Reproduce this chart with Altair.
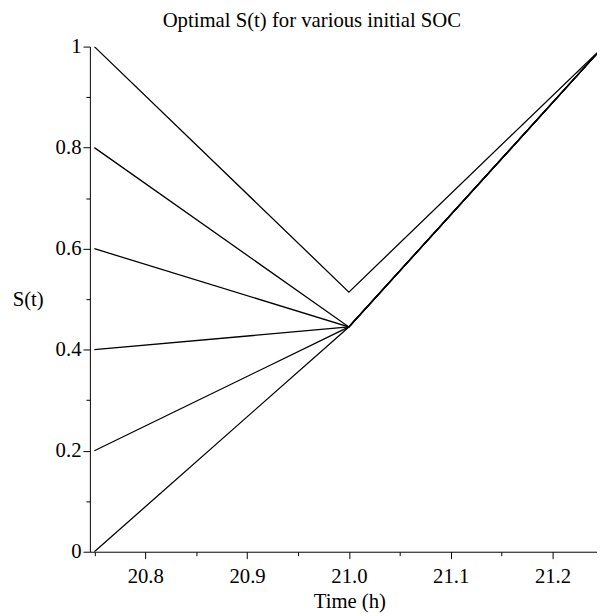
import altair as alt
import pandas as pd

# Initial state of charge for each run
initial_soc = [0.0, 0.2, 0.4, 0.6, 0.8, 1.0]
# S(t) at t = 21.0 h for each run
soc_at_21 = [0.445, 0.445, 0.445, 0.445, 0.445, 0.514]
# S(t) at the end (t = 21.25 h)
soc_end = [1.0, 1.0, 1.0, 1.0, 1.0, 1.0]
times = [20.75, 21.0, 21.25]

x_major = [20.8, 20.9, 21.0, 21.1, 21.2]
x_minor = [20.75, 20.85, 20.95, 21.05, 21.15]
y_major = [0.0, 0.2, 0.4, 0.6, 0.8, 1.0]
y_minor = [0.1, 0.3, 0.5, 0.7, 0.9]

rows = []
for i, s0 in enumerate(initial_soc):
    vals = [s0, soc_at_21[i], soc_end[i]]
    for t, v in zip(times, vals):
        rows.append({"run": f"S0={s0}", "t": t, "S": v})
df = pd.DataFrame(rows)

FONT = "Liberation Serif"
FS = 21
xscale = alt.Scale(domain=[20.7456, 21.2437], nice=False, zero=False)
yscale = alt.Scale(domain=[0, 1], nice=False)

lines = alt.Chart(df).mark_line(color="black", strokeWidth=1.3, clip=True).encode(
    x=alt.X("t:Q", scale=xscale,
            axis=alt.Axis(values=x_major, format=".1f", tickSize=7, orient="bottom",
                          labelFontSize=FS, labelFont=FONT, labelColor="black",
                          labelPadding=7, grid=False, domainColor="black",
                          tickColor="black", title="Time (h)", titleFont=FONT,
                          titleFontSize=FS, titleFontWeight="normal", titleColor="black",
                          titleX=263, titleY=57, titleBaseline="alphabetic",
                          titleAlign="center", labelFlush=False)),
    y=alt.Y("S:Q", scale=yscale,
            axis=alt.Axis(values=y_major, format="~g", tickSize=7, orient="left",
                          labelFontSize=FS, labelFont=FONT, labelColor="black",
                          labelPadding=2, grid=False, domainColor="black",
                          tickColor="black", title="S(t)", titleFont=FONT,
                          titleFontSize=FS, titleFontWeight="normal", titleColor="black",
                          titleAngle=0, titleX=-63, titleY=256, titleAlign="center",
                          titleBaseline="middle", labelFlush=False)),
    detail="run:N",
)

minor = alt.Chart(df).mark_line(strokeOpacity=0, clip=True).encode(
    x=alt.X("t:Q", scale=xscale,
            axis=alt.Axis(values=x_minor, tickSize=4, labels=False, domain=False,
                          grid=False, tickColor="black", title=None, orient="bottom")),
    y=alt.Y("S:Q", scale=yscale,
            axis=alt.Axis(values=y_minor, tickSize=4, labels=False, domain=False,
                          grid=False, tickColor="black", title=None, orient="left")),
    detail="run:N",
)

chart = alt.layer(lines, minor).resolve_axis(x="independent", y="independent").properties(
    width=514,
    height=512,
    autosize=alt.AutoSizeParams(type="none"),
    padding={"left": 83, "top": 35, "right": 0, "bottom": 60},
    title=alt.TitleParams("Optimal S(t) for various initial SOC", font=FONT, fontSize=FS,
                          fontWeight="normal", color="black", anchor="middle",
                          orient="top", offset=5, dx=-32),
).configure_view(stroke=None).configure_axis(labelFont=FONT, titleFont=FONT
).configure_title(font=FONT)

chart.save("out.html", embed_options={"renderer": "svg", "actions": False})
